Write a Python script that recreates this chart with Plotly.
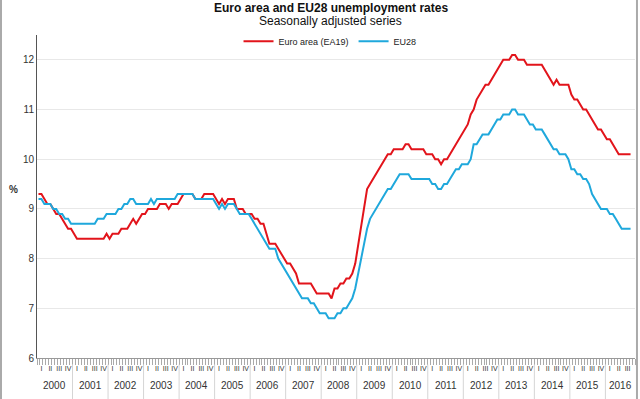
import plotly.graph_objects as go

years = [str(y) for y in range(2000, 2017)]
quarter_labels = ["I", "II", "III", "IV"]

ea19 = [
    9.3, 9.3, 9.2, 9.1, 9.1, 9.0, 8.9, 8.9, 8.8, 8.7, 8.6, 8.6,        # 2000
    8.5, 8.4, 8.4, 8.4, 8.4, 8.4, 8.4, 8.4, 8.4, 8.4, 8.4, 8.5,        # 2001
    8.4, 8.5, 8.5, 8.5, 8.6, 8.6, 8.6, 8.7, 8.8, 8.7, 8.8, 8.9,        # 2002
    8.9, 9.0, 9.0, 9.0, 9.0, 9.1, 9.1, 9.1, 9.0, 9.1, 9.1, 9.1,        # 2003
    9.2, 9.3, 9.3, 9.3, 9.3, 9.2, 9.2, 9.2, 9.3, 9.3, 9.3, 9.3,        # 2004
    9.2, 9.1, 9.2, 9.1, 9.2, 9.2, 9.2, 9.0, 9.0, 9.0, 8.9, 8.9,        # 2005
    8.9, 8.8, 8.8, 8.7, 8.7, 8.5, 8.3, 8.3, 8.3, 8.2, 8.1, 8.0,        # 2006
    7.9, 7.9, 7.8, 7.7, 7.5, 7.5, 7.5, 7.5, 7.5, 7.4, 7.3, 7.3,        # 2007
    7.3, 7.3, 7.3, 7.2, 7.4, 7.4, 7.5, 7.5, 7.6, 7.6, 7.7, 7.9,        # 2008
    8.3, 8.6, 9.0, 9.4, 9.5, 9.6, 9.7, 9.8, 9.9, 10.0, 10.1, 10.1,     # 2009
    10.2, 10.2, 10.2, 10.2, 10.3, 10.3, 10.2, 10.2, 10.2, 10.2, 10.2, 10.1,  # 2010
    10.1, 10.1, 10.0, 10.0, 9.9, 10.0, 10.0, 10.1, 10.2, 10.3, 10.4, 10.5,   # 2011
    10.6, 10.7, 10.9, 11.0, 11.2, 11.3, 11.4, 11.5, 11.5, 11.6, 11.7, 11.8,  # 2012
    11.9, 12.0, 12.0, 12.0, 12.1, 12.1, 12.0, 12.0, 12.0, 11.9, 11.9, 11.9,  # 2013
    11.9, 11.9, 11.9, 11.8, 11.7, 11.6, 11.5, 11.6, 11.5, 11.5, 11.5, 11.5,  # 2014
    11.3, 11.2, 11.2, 11.1, 11.0, 11.0, 10.9, 10.8, 10.7, 10.6, 10.6, 10.5,  # 2015
    10.4, 10.4, 10.3, 10.2, 10.1, 10.1, 10.1, 10.1, 10.1,                    # 2016
]

eu28 = [
    9.2, 9.2, 9.1, 9.1, 9.1, 9.0, 9.0, 8.9, 8.9, 8.8, 8.8, 8.7,        # 2000
    8.7, 8.7, 8.7, 8.7, 8.7, 8.7, 8.7, 8.7, 8.8, 8.8, 8.8, 8.9,        # 2001
    8.9, 8.9, 8.9, 9.0, 9.0, 9.1, 9.1, 9.2, 9.2, 9.1, 9.1, 9.1,        # 2002
    9.1, 9.1, 9.2, 9.1, 9.2, 9.2, 9.2, 9.2, 9.2, 9.2, 9.2, 9.3,        # 2003
    9.3, 9.3, 9.3, 9.3, 9.3, 9.2, 9.2, 9.2, 9.2, 9.2, 9.2, 9.2,        # 2004
    9.1, 9.0, 9.1, 9.0, 9.1, 9.1, 9.1, 9.0, 8.9, 8.9, 8.9, 8.9,        # 2005
    8.8, 8.7, 8.6, 8.5, 8.4, 8.3, 8.2, 8.2, 8.2, 8.0, 7.9, 7.8,        # 2006
    7.7, 7.6, 7.5, 7.4, 7.3, 7.2, 7.2, 7.2, 7.1, 7.1, 7.0, 6.9,        # 2007
    6.9, 6.9, 6.8, 6.8, 6.8, 6.9, 6.9, 7.0, 7.0, 7.1, 7.2, 7.4,        # 2008
    7.7, 8.0, 8.3, 8.6, 8.8, 8.9, 9.0, 9.1, 9.2, 9.3, 9.4, 9.4,        # 2009
    9.5, 9.6, 9.7, 9.7, 9.7, 9.7, 9.6, 9.6, 9.6, 9.6, 9.6, 9.6,        # 2010
    9.6, 9.5, 9.5, 9.4, 9.4, 9.5, 9.5, 9.6, 9.7, 9.8, 9.8, 9.9,        # 2011
    9.9, 9.9, 10.0, 10.3, 10.3, 10.4, 10.5, 10.5, 10.5, 10.6, 10.7, 10.8,    # 2012
    10.8, 10.9, 10.9, 10.9, 11.0, 11.0, 10.9, 10.9, 10.9, 10.8, 10.7, 10.7,  # 2013
    10.6, 10.6, 10.6, 10.5, 10.4, 10.3, 10.2, 10.2, 10.1, 10.1, 10.1, 10.0,  # 2014
    9.8, 9.8, 9.7, 9.7, 9.6, 9.6, 9.5, 9.3, 9.2, 9.1, 9.0, 9.0,              # 2015
    9.0, 8.9, 8.9, 8.8, 8.7, 8.6, 8.6, 8.6, 8.6,                             # 2016
]

y_ticks = [6, 7, 8, 9, 10, 11, 12]

months = list(range(len(ea19)))

FONT = "Liberation Sans, Arial, sans-serif"
RED = "#e2141b"
BLUE = "#1fa8dc"

fig = go.Figure()
fig.add_trace(go.Scatter(x=months, y=ea19, mode="lines", name="Euro area (EA19)",
                         line=dict(color=RED, width=2)))
fig.add_trace(go.Scatter(x=months, y=eu28, mode="lines", name="EU28",
                         line=dict(color=BLUE, width=2)))

# quarter tick labels at quarter centres
q_vals, q_text = [], []
for yi in range(len(years)):
    for qi, ql in enumerate(quarter_labels):
        c = yi * 12 + qi * 3 + 1
        if c < len(ea19) + 1:
            q_vals.append(c)
            q_text.append(ql)

annotations = []
shapes = []
for yi, yr in enumerate(years):
    start = yi * 12 - 0.5
    end = min(start + 12, 201.5)
    annotations.append(dict(x=(start + end) / 2, y=-0.084, xref="x", yref="paper",
                            text=yr, showarrow=False, font=dict(size=10, color="#333"),
                            xanchor="center", yanchor="middle"))
    if yi > 0:
        shapes.append(dict(type="line", xref="x", yref="paper", x0=start, x1=start,
                           y0=-0.02, y1=-0.13, line=dict(color="#d5d5d5", width=1)))

annotations += [
    dict(x=0.4916, y=1.083, xref="paper", yref="paper",
         text="<b>Euro area and EU28 unemployment rates</b>", showarrow=False,
         font=dict(size=12, color="#111"), xanchor="center", yanchor="middle"),
    dict(x=0.4916, y=1.042, xref="paper", yref="paper",
         text="Seasonally adjusted series", showarrow=False,
         font=dict(size=12, color="#111"), xanchor="center", yanchor="middle"),
    dict(x=-0.039, y=0.523, xref="paper", yref="paper", text="<b>%</b>",
         showarrow=False, font=dict(size=10, color="#333"),
         xanchor="center", yanchor="middle"),
]

# outer frame sides
shapes += [
    dict(type="line", xref="paper", yref="paper", x0=-0.0602, x1=-0.0602,
         y0=-0.2, y1=1.2, line=dict(color="#aaaaaa", width=2)),
    dict(type="line", xref="paper", yref="paper", x0=1.0033, x1=1.0033,
         y0=-0.2, y1=1.2, line=dict(color="#aaaaaa", width=2)),
]

fig.update_layout(
    width=640, height=399,
    margin=dict(l=37, r=5, t=35, b=41),
    paper_bgcolor="white", plot_bgcolor="white",
    font=dict(family=FONT, size=10, color="#333"),
    showlegend=True,
    legend=dict(orientation="h", x=0.49, xanchor="center", y=0.981, yanchor="middle",
                font=dict(size=9, color="#222"), bgcolor="rgba(0,0,0,0)",
                itemwidth=30, tracegroupgap=0),
    annotations=annotations,
    shapes=shapes,
    xaxis=dict(range=[-0.5, 201.5], tickmode="array", tickvals=q_vals, ticktext=q_text,
               ticks="outside", ticklen=4, tickcolor="rgba(0,0,0,0)", tickangle=0,
               tickfont=dict(size=7, color="#333"),
               showgrid=False, zeroline=False, showline=True, linecolor="#999", linewidth=1,
               minor=dict(ticks="outside", tickmode="linear", tick0=-0.5, dtick=1,
                          ticklen=6, tickcolor="#aaa", tickwidth=1, showgrid=False)),
    yaxis=dict(range=[6, 12.5], tickmode="array", tickvals=y_ticks,
               ticktext=[str(v) for v in y_ticks],
               showgrid=True, gridcolor="#e8e8e8", gridwidth=1, zeroline=False,
               showline=True, linecolor="#555", linewidth=1, ticks="",
               tickfont=dict(size=10, color="#333")),
)

fig.write_html("out.html", config={"displayModeBar": False},
               post_script="document.body.style.margin='0';document.body.style.padding='0';")
